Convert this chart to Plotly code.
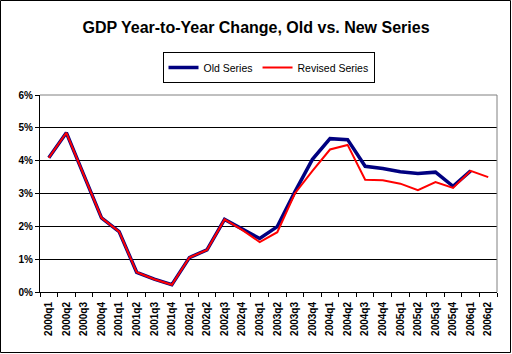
import plotly.graph_objects as go

quarters = ["2000q1","2000q2","2000q3","2000q4","2001q1","2001q2","2001q3","2001q4",
            "2002q1","2002q2","2002q3","2002q4","2003q1","2003q2","2003q3","2003q4",
            "2004q1","2004q2","2004q3","2004q4","2005q1","2005q2","2005q3","2005q4",
            "2006q1","2006q2"]
old_series = [4.09, 4.85, 3.55, 2.26, 1.84, 0.60, 0.39, 0.22,
              1.05, 1.28, 2.21, 1.91, 1.63, 1.99, 3.05, 4.04,
              4.67, 4.64, 3.83, 3.76, 3.66, 3.61, 3.65, 3.22,
              3.69, None]
revised_series = [4.09, 4.85, 3.55, 2.26, 1.84, 0.60, 0.39, 0.22,
                  1.05, 1.28, 2.21, 1.89, 1.52, 1.82, 3.00, 3.69,
                  4.34, 4.48, 3.42, 3.40, 3.30, 3.10, 3.35, 3.17,
                  3.69, 3.50]
y_ticks = [0, 1, 2, 3, 4, 5, 6]
y_labels = ["0%", "1%", "2%", "3%", "4%", "5%", "6%"]

FONT = "Liberation Sans, Arial, sans-serif"

fig = go.Figure()
fig.add_trace(go.Scatter(x=quarters, y=old_series, mode="lines", name="Old Series",
                         line=dict(color="#000080", width=3.5)))
fig.add_trace(go.Scatter(x=quarters, y=revised_series, mode="lines", name="Revised Series",
                         line=dict(color="#FF0000", width=2)))

L, R, T, B = 40, 15, 95, 62
W, H = 512, 354
pw, ph = W - L - R, H - T - B

fig.update_layout(
    width=W, height=H,
    margin=dict(l=L, r=R, t=T, b=B),
    paper_bgcolor="white", plot_bgcolor="white",
    font=dict(family=FONT, color="black"),
    title=dict(text="GDP Year-to-Year Change, Old vs. New Series",
               x=0.5, xanchor="center", y=1 - 27 / H, yanchor="middle",
               font=dict(family=FONT, size=16, weight="bold", color="black")),
    legend=dict(orientation="h", x=0.5, xanchor="center", y=(ph + 43) / ph, yanchor="top",
                bordercolor="black", borderwidth=1, bgcolor="white",
                font=dict(family=FONT, size=10.5, color="black"),
                itemwidth=30, tracegroupgap=0),
    showlegend=True,
)
fig.update_xaxes(
    type="category", range=[-0.5, len(quarters) - 0.5],
    tickangle=-90, tickson="boundaries",
    ticks="outside", ticklen=4, tickcolor="black",
    showline=True, linecolor="black", linewidth=1,
    showgrid=False, zeroline=False, ticklabelstandoff=5,
    tickfont=dict(family=FONT, size=10, weight="bold", color="black"),
)
fig.update_yaxes(
    range=[0, 6], tickvals=y_ticks, ticktext=y_labels,
    ticks="outside", ticklen=4, tickcolor="black",
    showline=True, linecolor="black", linewidth=1,
    showgrid=True, gridcolor="black", gridwidth=1, zeroline=False,
    tickfont=dict(family=FONT, size=10, weight="bold", color="black"),
)
# plot-area border (top and right) in gray
fig.add_shape(type="line", xref="paper", yref="paper", x0=0, x1=1, y0=1, y1=1,
              line=dict(color="#808080", width=1))
fig.add_shape(type="line", xref="paper", yref="paper", x0=1, x1=1, y0=0, y1=1,
              line=dict(color="#808080", width=1))
# outer chart border
fig.add_shape(type="rect", xref="paper", yref="paper",
              x0=(0.5 - L) / pw, x1=(W - 1.5 - L) / pw,
              y0=(ph - (H - T - 1.5)) / ph, y1=(ph + T - 0.5) / ph,
              line=dict(color="black", width=1))

fig.write_html("out.html")
